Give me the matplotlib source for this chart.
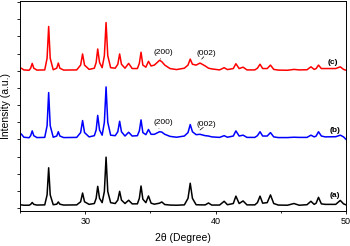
import numpy as np
import matplotlib
matplotlib.use('Agg')
import matplotlib.pyplot as plt
from matplotlib.ticker import MultipleLocator, NullFormatter

plt.rcParams['font.family'] = ['Liberation Sans', 'DejaVu Sans']

# 2theta sample points shared by the three patterns
two_theta = [25.0, 25.1, 25.3, 25.7, 25.82, 25.94, 26.06, 26.3, 26.9, 27.08,
             27.2, 27.32, 27.55, 27.82, 27.94, 28.06, 28.35, 29.35, 29.65, 29.8,
             29.95, 30.3, 30.7, 30.84, 30.96, 31.1, 31.3, 31.47, 31.6, 31.73,
             31.95, 32.3, 32.5, 32.64, 32.78, 33.05, 33.33, 33.6, 34.0, 34.15,
             34.28, 34.42, 34.65, 34.85, 35.05, 35.3, 35.7, 35.87, 36.1, 36.5,
             37.0, 37.6, 37.88, 38.05, 38.22, 38.5, 38.8, 39.2, 39.45, 39.7,
             40.3, 40.65, 40.9, 41.35, 41.55, 41.8, 42.1, 42.4, 43.0, 43.2,
             43.4, 43.6, 43.95, 44.2, 44.45, 44.8, 45.5, 46.0, 46.4, 47.0,
             47.3, 47.55, 47.7, 47.88, 48.1, 48.4, 49.2, 49.55, 49.8, 50.0]

# intensities above each pattern's own baseline (a.u.)
int_a = [0.02, 0.02, 0.0, 0.0, 0.05, 0.16, 0.05, 0.01, 0.02, 0.6,
         2.18, 0.6, 0.03, 0.06, 0.19, 0.06, 0.01, 0.02, 0.2, 0.71,
         0.2, 0.05, 0.1, 0.4, 1.1, 0.4, 0.15, 0.8, 2.8, 0.8,
         0.15, 0.1, 0.3, 0.81, 0.3, 0.1, 0.29, 0.08, 0.08, 0.4,
         1.12, 0.35, 0.15, 0.54, 0.12, 0.06, 0.12, 0.19, 0.04, 0.01,
         0.0, 0.02, 0.4, 1.28, 0.4, 0.03, 0.02, 0.02, 0.13, 0.01,
         0.01, 0.23, 0.03, 0.1, 0.53, 0.1, 0.25, 0.02, 0.02, 0.15,
         0.53, 0.12, 0.15, 0.6, 0.1, 0.01, 0.0, 0.1, 0.0, 0.03,
         0.23, 0.05, 0.12, 0.46, 0.08, 0.05, 0.05, 0.28, 0.08, 0.02]
int_b = [0.2, 0.22, 0.03, 0.0, 0.12, 0.4, 0.12, 0.01, 0.02, 0.7,
         2.63, 0.7, 0.03, 0.1, 0.35, 0.1, 0.01, 0.02, 0.3, 1.0,
         0.3, 0.05, 0.12, 0.45, 1.3, 0.45, 0.15, 0.9, 2.96, 0.9,
         0.15, 0.12, 0.35, 0.96, 0.35, 0.1, 0.32, 0.1, 0.12, 0.4,
         1.04, 0.3, 0.18, 0.48, 0.2, 0.2, 0.35, 0.33, 0.2, 0.08,
         0.03, 0.1, 0.3, 0.77, 0.35, 0.18, 0.2, 0.12, 0.1, 0.05,
         0.02, 0.12, 0.03, 0.1, 0.4, 0.1, 0.15, 0.02, 0.02, 0.12,
         0.35, 0.1, 0.1, 0.3, 0.05, 0.01, 0.01, 0.03, 0.02, 0.02,
         0.15, 0.05, 0.1, 0.35, 0.1, 0.05, 0.06, 0.15, 0.05, -0.1]
int_c = [0.1, 0.12, 0.02, 0.0, 0.12, 0.4, 0.12, 0.01, 0.02, 0.7,
         2.55, 0.7, 0.03, 0.12, 0.42, 0.12, 0.01, 0.02, 0.3, 0.95,
         0.3, 0.05, 0.12, 0.45, 1.24, 0.45, 0.15, 0.85, 2.78, 0.85,
         0.15, 0.12, 0.35, 0.95, 0.35, 0.12, 0.4, 0.1, 0.1, 0.4,
         1.05, 0.3, 0.18, 0.52, 0.25, 0.3, 0.58, 0.5, 0.3, 0.1,
         0.04, 0.12, 0.3, 0.65, 0.35, 0.3, 0.42, 0.25, 0.12, 0.08,
         0.02, 0.15, 0.04, 0.1, 0.38, 0.1, 0.18, 0.02, 0.02, 0.12,
         0.35, 0.1, 0.1, 0.3, 0.05, 0.01, 0.0, 0.05, 0.02, 0.03,
         0.2, 0.05, 0.1, 0.3, 0.1, 0.1, 0.1, 0.2, 0.05, 0.0]

offsets = [0.17, 4.1, 8.03]
colors = ['black', '#0000ff', '#ff0000']
labels = ['(a)', '(b)', '(c)']
label_pos = [(49.15, 0.75), (49.15, 4.5), (48.95, 8.5)]

# (hkl) marks: text centre and the point the little tick touches
hkl_text = ['(200)', '(002)', '(200)', '(002)']
hkl_xy = [(35.65, 4.62), (38.8, 4.55), (35.75, 8.68), (38.93, 8.68)]
hkl_txt_xy = [(35.95, 4.99), (39.3, 4.86), (36.0, 9.07), (39.3, 9.0)]

fig = plt.figure(figsize=(3.5, 2.46), dpi=100)
ax = fig.add_axes([0.057, 0.142, 0.932, 0.853])

for ys, off, c in zip([int_a, int_b, int_c], offsets, colors):
    ax.plot(two_theta, np.array(ys) + off, color=c, lw=1.1)

for lab, (lx, ly) in zip(labels, label_pos):
    ax.text(lx, ly, lab, fontsize=6, fontweight='bold', ha='center', va='center')

for t, xy, txy in zip(hkl_text, hkl_xy, hkl_txt_xy):
    ax.annotate(t, xy=xy, xytext=txy, fontsize=6, ha='center', va='center',
                arrowprops=dict(arrowstyle='-', lw=0.5, color='black',
                                shrinkA=3, shrinkB=0))

ax.set_xlim(25, 50)
ax.set_ylim(-0.17, 12.05)
ax.xaxis.set_major_locator(MultipleLocator(10))
ax.xaxis.set_minor_locator(MultipleLocator(5))
ax.yaxis.set_major_locator(MultipleLocator(1))
ax.yaxis.set_major_formatter(NullFormatter())
ax.tick_params(axis='both', which='major', length=2.5, width=0.6, labelsize=6.5, pad=2)
ax.tick_params(axis='both', which='minor', length=1.5, width=0.6)
for s in ax.spines.values():
    s.set_linewidth(0.7)

ax.set_xlabel('2\u03b8 (Degree)', fontsize=7.5, labelpad=5)
ax.set_ylabel('Intensity (a.u.)', fontsize=7.5, labelpad=2)

fig.savefig('out.png', dpi=100)
